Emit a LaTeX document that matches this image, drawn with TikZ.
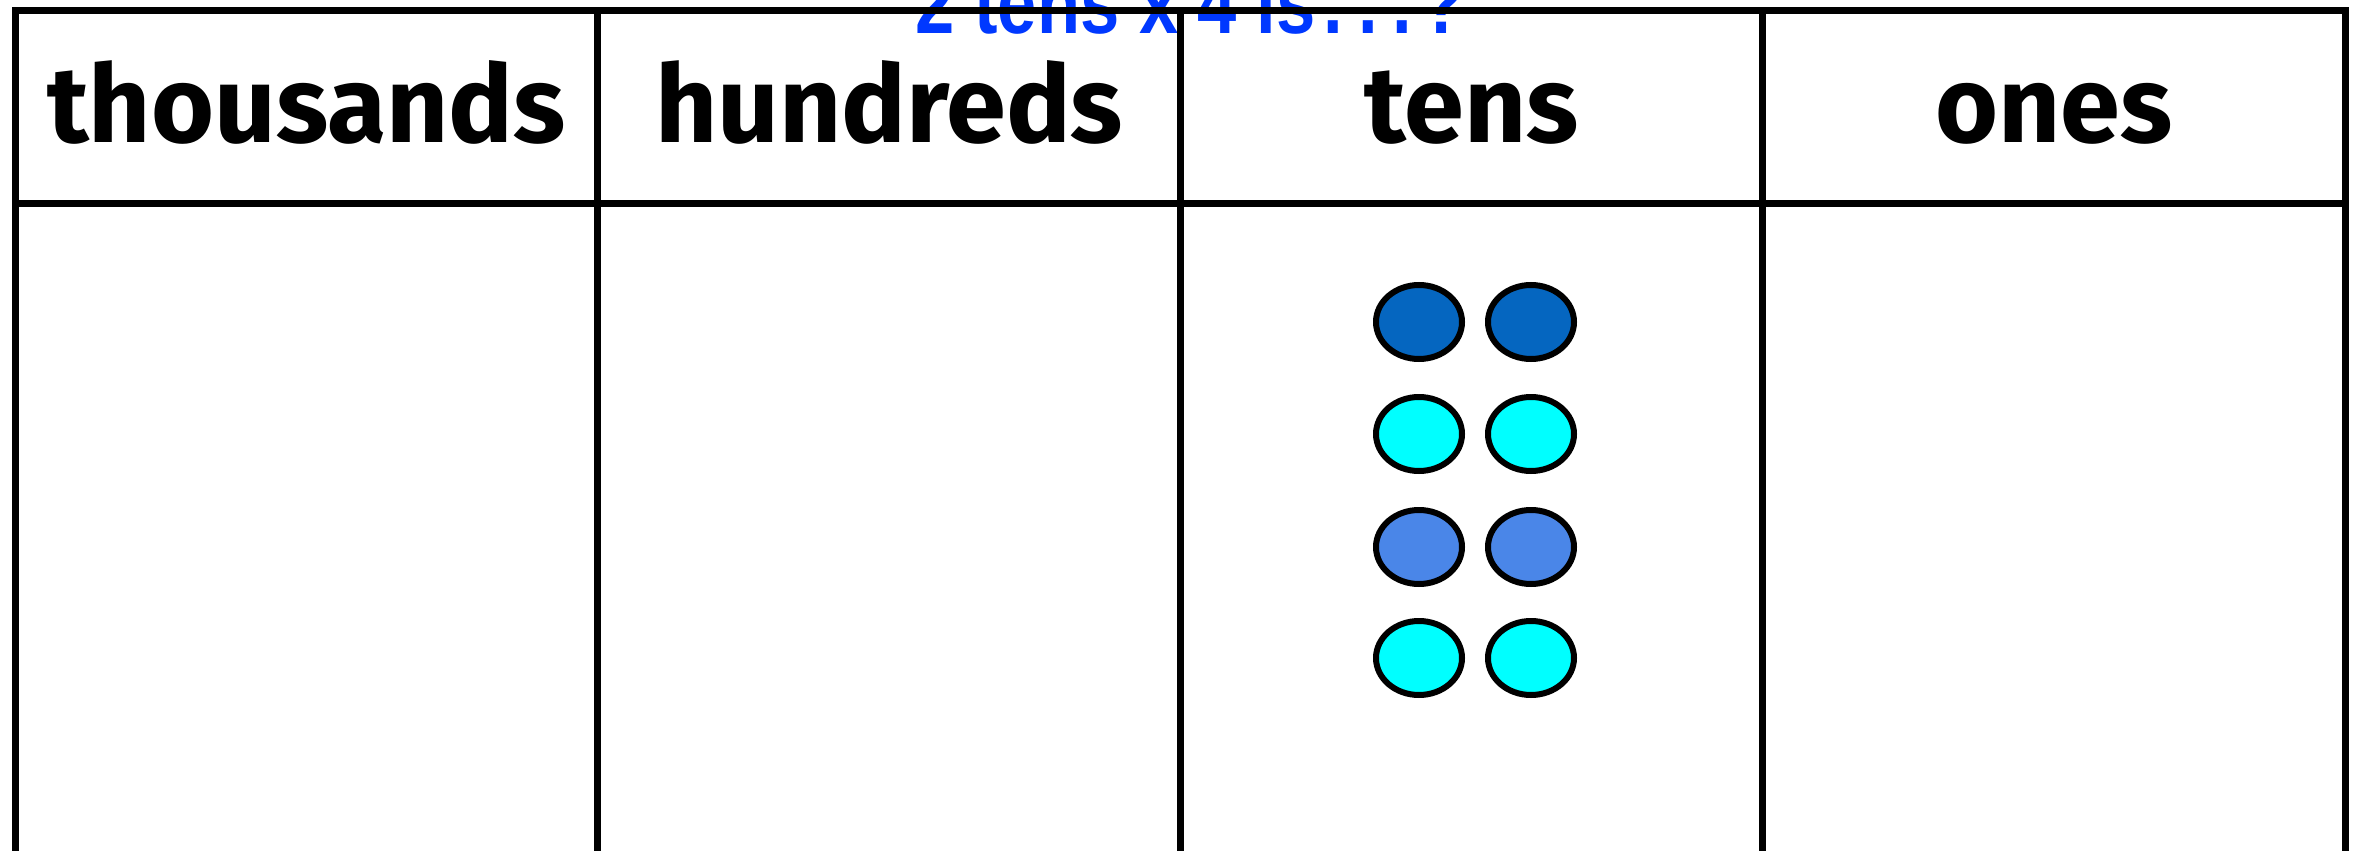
\documentclass[tikz,border=0pt]{standalone}
\usepackage{fontspec}
\usetikzlibrary{shapes.geometric}
\newfontfamily\headfont{Fira Sans}
\newfontfamily\askfont[FakeStretch=0.82]{Liberation Sans}
\definecolor{askblue}{HTML}{0038FF}
\definecolor{tendark}{HTML}{0566C0}
\definecolor{tencyan}{HTML}{00FFFF}
\definecolor{tenmid}{HTML}{4A86E8}

\begin{document}
\begin{tikzpicture}[
		x=1pt, y=-1pt,
		grid/.style={line width=7pt, line join=miter},
		heading/.style={anchor=base, inner sep=0pt, font=\headfont\bfseries\fontsize{108}{120}\selectfont},
		counter/.style={draw, ellipse, line width=6pt, minimum width=86pt, minimum height=74pt, inner sep=0pt}
		]
		\useasboundingbox (0,0) rectangle (2354,851);
		\clip (0,0) rectangle (2354,851);
		% Domanda in alto
		\node[anchor=base, inner sep=0pt, text=askblue, font=\askfont\bfseries\fontsize{86}{90}\selectfont] (ask) at (1190,34)
			{2 tens x 4 is\kern8pt.\kern15pt.\kern15pt.\kern9pt?};
		
		% Griglia
		\draw[grid] (15.3,851) |- (2345.3,11) -- (2345.3,851);
		\draw[grid] (15.3,203) -- (2345.3,203);
		\foreach \i in {1,2,3}
			\draw[grid] (15.3+582.5*\i,11) -- (15.3+582.5*\i,851);
		
		% Intestazioni
		\node[heading] (thousands) at (306.5,142) {thousands};
		\node[heading] (hundreds) at (889,142) {hundreds};
		\node[heading] (tens) at (1471.5,142) {tens};
		\node[heading] (ones) at (2054,142) {ones};
		
		% Gettoni delle decine
		\foreach \r/\y/\c in {1/322/tendark, 2/434/tencyan, 3/547/tenmid, 4/658/tencyan} {
			\node[counter, fill=\c] (ten\r a) at (1419,\y) {};
			\node[counter, fill=\c] (ten\r b) at (1531,\y) {};
		}
	\end{tikzpicture}
\end{document}
